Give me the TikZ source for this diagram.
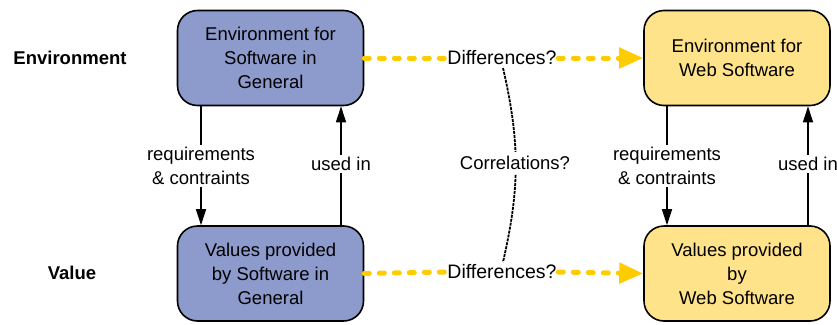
\documentclass[tikz,border=0pt]{standalone}
\usepackage{fontspec}
\setmainfont{Liberation Sans}
\usetikzlibrary{arrows.meta}
\definecolor{boxblue}{RGB}{140,154,204}
\definecolor{boxyellow}{RGB}{255,227,138}
\definecolor{dashyellow}{RGB}{255,204,0}
\begin{document}
\begin{tikzpicture}[x=1pt,y=-1pt,
  font=\fontsize{18.5}{24}\selectfont,
  box/.style={draw=black,line width=1.6pt,rounded corners=20pt,minimum width=186pt,minimum height=95pt,align=center,inner sep=0pt},
  bluebox/.style={box,fill=boxblue},
  yellowbox/.style={box,fill=boxyellow},
  diff/.style={inner sep=1.5pt,font=\fontsize{19.5}{24}\selectfont},
  ydash/.style={draw=dashyellow,line width=5pt,line cap=round,dash pattern=on 5pt off 10pt},
  yarrow/.style={ydash,-{Triangle[length=24pt,width=20pt]}},
  flow/.style={draw,line width=1.3pt,-{Triangle[length=16pt,width=10pt]}},
  flowlabel/.style={fill=white,align=center,inner sep=2pt},
  rowlabel/.style={font=\fontsize{18.5}{24}\selectfont\bfseries},
  corr/.style={line width=1.8pt,dash pattern=on 3pt off 1pt}
]
\useasboundingbox (0,0) rectangle (837,324);
% boxes
\node[bluebox] (EG) at (270.5,58) {Environment for\\Software in\\General};
\node[bluebox] (VG) at (270.5,273.5) {Values provided\\by Software in\\General};
\node[yellowbox] (EW) at (737,58) {Environment for\\Web Software};
\node[yellowbox] (VW) at (737,273.5) {Values provided\\by\\Web Software};
% row labels
\node[rowlabel] (RE) at (70,58) {Environment};
\node[rowlabel] (RV) at (72,273) {Value};
% differences
\node[diff] (D1) at (502,58) {Differences?};
\node[diff] (D2) at (502,272) {Differences?};
\draw[ydash] (EG.east) -- (D1.west);
\draw[yarrow] (D1.east) -- (EW.west);
\draw[ydash] (VG.east) -- (D2.west);
\draw[yarrow] (D2.east) -- (VW.west);
% correlation arc
\coordinate (C1) at (503,68);
\coordinate (C2) at (503,262);
\draw[corr] (C1) to[bend left=13] (C2);
\node[flowlabel,inner sep=4pt] (CO) at (515,163) {Correlations?};
% vertical flows
\coordinate (L1) at (201,0);
\coordinate (L2) at (341,0);
\coordinate (R1) at (667,0);
\coordinate (R2) at (808,0);
\draw[flow] (EG.south -| L1) -- (VG.north -| L1);
\draw[flow] (VG.north -| L2) -- (EG.south -| L2);
\draw[flow] (EW.south -| R1) -- (VW.north -| R1);
\draw[flow] (VW.north -| R2) -- (EW.south -| R2);
\node[flowlabel] (RQ1) at (201,166) {requirements\\\& contraints};
\node[flowlabel] (U1) at (341,164) {used in};
\node[flowlabel] (RQ2) at (667,166) {requirements\\\& contraints};
\node[flowlabel] (U2) at (808,164) {used in};
\end{tikzpicture}
\end{document}
